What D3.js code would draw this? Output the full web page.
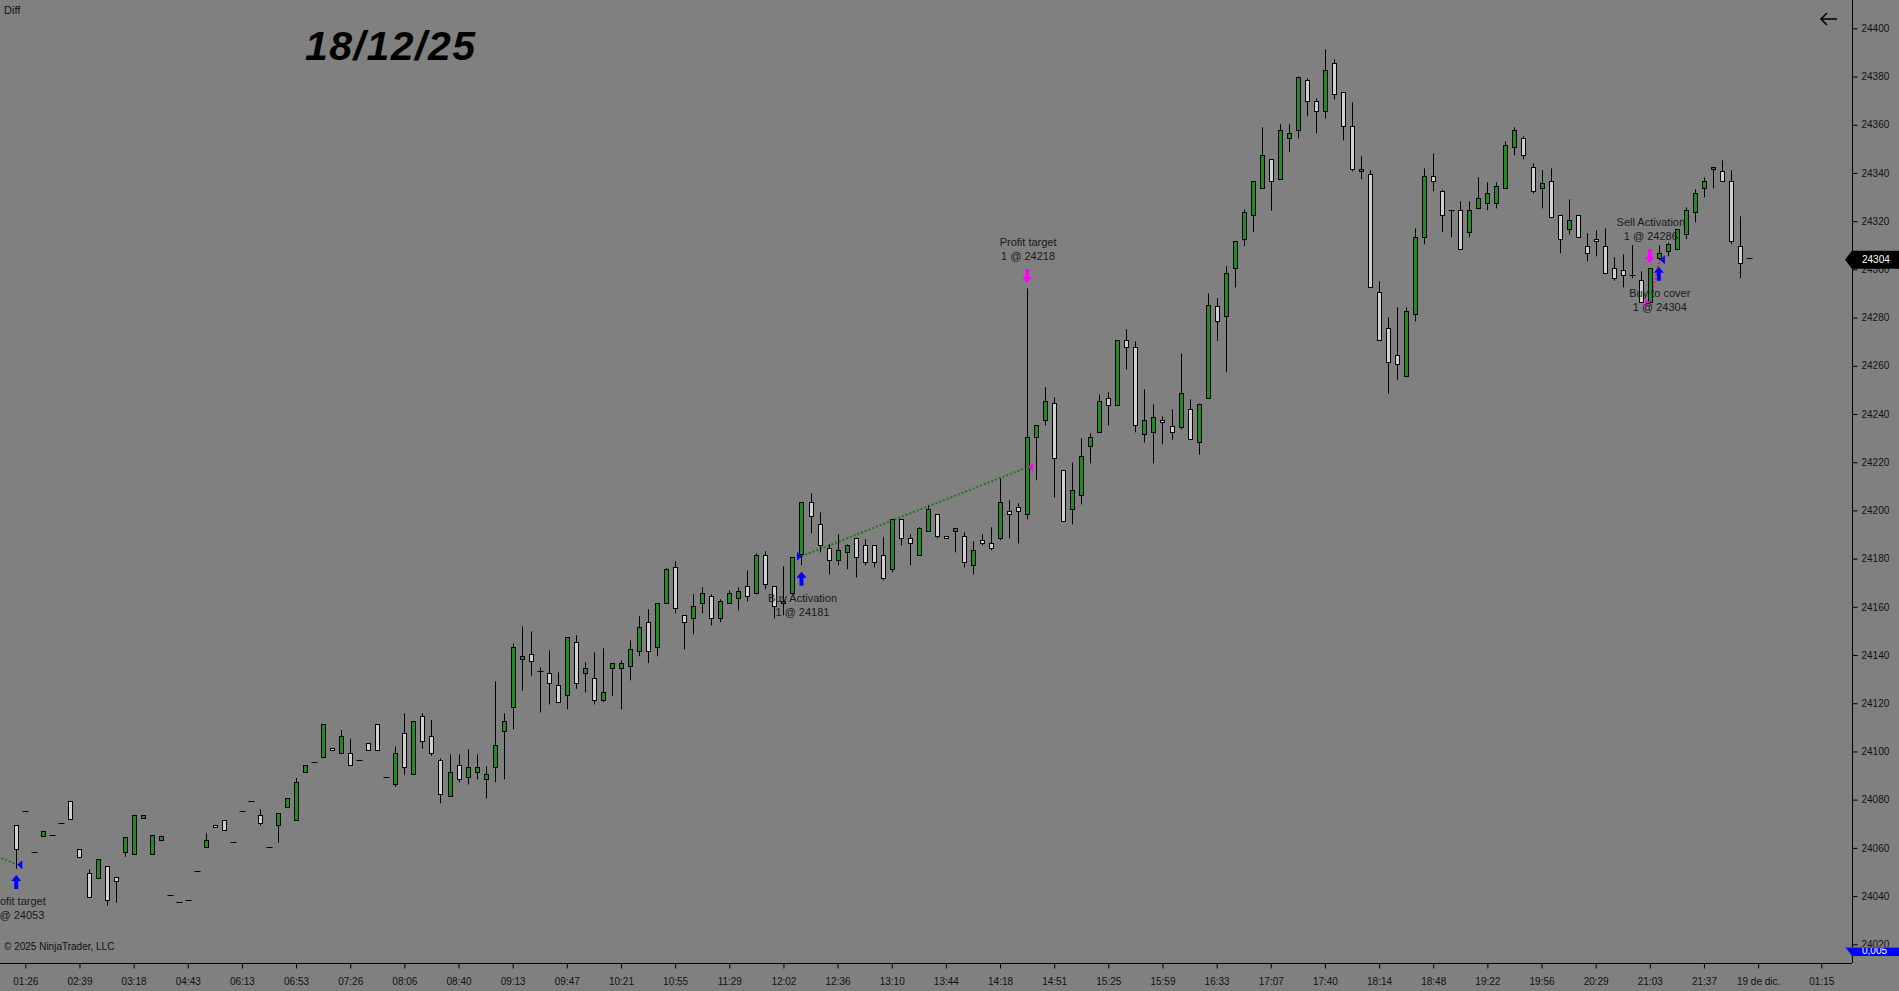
<!DOCTYPE html>
<html>
<head>
<meta charset="utf-8">
<script src="https://cdn.jsdelivr.net/npm/d3@7/dist/d3.min.js"></script>
<style>
  html, body { margin: 0; padding: 0; background: #808080; overflow: hidden; }
  svg { display: block; }
  text { font-family: "Liberation Sans", Arial, sans-serif; }
</style>
</head>
<body>
<svg id="chart" width="1899" height="991"></svg>
<script>
// ---------------- DATA ----------------
const opens = [
24069.4,24075.2,24058.1,24065.1,24065.2,24070.2,24079.3,24059.4,24049.4,24047.4,
24052.3,24048.1,24058.1,24057.3,24072.2,24057.3,24063.1,24040.3,24037.4,24038.2,
24050.3,24060.2,24069.4,24071.4,24062.3,24075.2,24079.3,24073.5,24060.2,24069.4,
24077.1,24071.4,24091.3,24095.5,24097.6,24101.3,24099.2,24099.2,24096.3,24103.4,
24111.2,24089.3,24086.3,24107.5,24090.5,24114.6,24106.3,24096.3,24081.4,24094.2,
24089.3,24091.3,24088.4,24093.4,24108.3,24118.3,24138.2,24140.3,24133.2,24132.4,
24127.4,24123.3,24145.3,24132.4,24130.3,24121.2,24134.5,24134.5,24135.3,24141.5,
24153.6,24143.2,24161.4,24176.4,24156.5,24155.2,24161.4,24164.4,24155.2,24161.4,
24163.5,24168.5,24165.6,24181.4,24168.5,24161.4,24165.6,24181.8,24203.3,24194.2,
24184.3,24179.3,24182.6,24188.4,24185.5,24185.5,24181.4,24175.5,24196.3,24188.4,
24181.4,24191.3,24198.4,24189.2,24191.3,24189.2,24177.2,24187.6,24186.3,24188.4,
24199.6,24201.3,24198.4,24230.3,24237.4,24244.4,24216.6,24200.4,24206.2,24226.6,
24232.4,24246.5,24243.6,24270.5,24267.6,24231.6,24232.4,24237.4,24235.1,24234.5,
24242.2,24228.2,24246.5,24284.6,24280.5,24300.4,24312.5,24322.4,24333.6,24345.6,
24337.3,24354.4,24357.7,24378.4,24369.7,24365.6,24385.5,24373.4,24359.3,24340.7,
24339.4,24290.5,24275.5,24264.3,24255.6,24281.3,24313.3,24338.6,24332.4,24324.5,
24324.6,24315.4,24325.3,24327.4,24327.4,24333.6,24350.6,24354.4,24342.3,24333.6,
24336.5,24322.4,24316.6,24322.4,24309.5,24312.5,24309.5,24300.4,24299.6,24297.5,
24295.4,24286.3,24304.6,24307.5,24308.3,24314.5,24323.7,24333.6,24341.5,24340.7,
24336.5,24309.5,24304.6
];
const highs = [
24069.4,24075.2,24058.1,24067.1,24065.2,24070.2,24079.3,24059.4,24051.1,24055.2,
24052.3,24048.1,24064.4,24073.5,24073.5,24065.2,24065.1,24040.3,24037.4,24038.2,
24050.3,24066.2,24069.4,24071.4,24062.3,24075.2,24079.3,24076.0,24060.2,24074.3,
24080.6,24089.0,24094.2,24095.5,24111.2,24101.3,24108.9,24105.2,24096.3,24103.4,
24111.2,24089.3,24102.1,24115.8,24112.5,24115.8,24113.0,24097.1,24098.8,24098.8,
24100.9,24098.8,24093.8,24129.1,24115.8,24144.8,24151.9,24149.8,24134.9,24141.9,
24132.8,24147.3,24148.2,24137.0,24141.1,24142.8,24136.5,24137.8,24146.1,24156.1,
24159.0,24161.4,24176.0,24178.9,24156.5,24165.2,24168.1,24165.2,24163.1,24166.8,
24168.1,24175.1,24182.2,24183.0,24168.5,24176.8,24180.5,24203.3,24207.1,24199.2,
24185.9,24190.1,24185.9,24188.4,24188.0,24185.5,24189.0,24196.3,24196.3,24190.2,
24193.0,24202.1,24198.4,24189.2,24192.6,24190.9,24187.2,24190.2,24193.0,24213.3,
24204.2,24203.0,24292.1,24235.3,24251.1,24246.9,24216.6,24219.9,24229.9,24232.0,
24248.1,24249.0,24270.5,24275.1,24270.1,24250.2,24244.0,24239.0,24241.9,24265.1,
24246.1,24244.3,24290.0,24288.0,24301.3,24311.6,24324.9,24336.5,24358.9,24345.6,
24360.2,24360.2,24380.0,24379.2,24370.9,24391.3,24387.1,24373.4,24369.3,24346.9,
24341.1,24295.0,24280.1,24284.2,24284.2,24317.0,24341.9,24348.1,24333.0,24324.5,
24328.2,24328.2,24338.2,24336.1,24336.1,24353.1,24358.9,24355.2,24344.0,24341.1,
24341.9,24322.4,24329.0,24322.4,24315.0,24316.2,24317.0,24305.0,24306.2,24310.0,
24299.2,24300.4,24310.0,24311.0,24316.6,24325.7,24333.2,24338.2,24342.3,24345.2,
24341.1,24322.0,24304.6
];
const lows = [
24051.4,24075.2,24058.1,24065.1,24065.2,24070.2,24072.1,24056.3,24039.5,24047.4,
24036.0,24037.3,24056.3,24057.3,24072.2,24057.3,24063.1,24040.3,24037.4,24038.2,
24050.3,24060.2,24068.5,24067.3,24062.3,24075.2,24079.3,24069.2,24060.2,24062.2,
24077.1,24071.4,24091.3,24095.5,24097.6,24100.5,24099.2,24094.2,24096.3,24100.5,
24100.5,24089.3,24085.3,24090.2,24090.5,24101.1,24098.2,24078.5,24081.4,24087.2,
24086.3,24088.4,24080.5,24087.2,24088.4,24109.2,24125.2,24131.4,24116.2,24119.5,
24120.4,24117.5,24126.0,24124.5,24119.5,24120.4,24123.1,24117.5,24129.5,24139.5,
24136.6,24139.5,24161.4,24157.3,24142.4,24148.6,24157.3,24152.3,24153.6,24161.4,
24158.5,24162.3,24165.2,24167.3,24155.2,24156.5,24165.6,24177.2,24190.5,24182.6,
24173.5,24177.2,24175.6,24172.2,24177.2,24176.4,24171.0,24174.3,24185.5,24177.2,
24181.4,24191.3,24188.4,24188.4,24182.6,24176.4,24173.5,24185.5,24183.4,24187.6,
24188.4,24186.3,24196.3,24212.5,24235.3,24205.4,24195.5,24194.2,24202.5,24219.5,
24232.4,24235.3,24243.6,24258.5,24232.4,24228.2,24219.5,24227.4,24229.3,24233.6,
24229.5,24223.1,24246.5,24270.4,24257.3,24292.5,24309.6,24315.4,24333.6,24324.3,
24337.3,24348.6,24354.4,24363.5,24356.4,24362.6,24370.5,24353.5,24340.7,24337.4,
24292.5,24270.6,24248.4,24254.2,24255.6,24278.4,24310.4,24332.4,24315.4,24313.3,
24308.3,24313.3,24325.3,24324.5,24325.3,24333.6,24347.3,24345.6,24331.5,24325.3,
24321.6,24306.6,24314.5,24313.3,24303.3,24305.4,24298.4,24295.3,24292.5,24296.3,
24286.3,24286.3,24303.8,24305.4,24308.3,24312.5,24319.5,24329.9,24333.6,24336.5,
24310.4,24296.3,24304.6
];
const closes = [
24059.4,24075.2,24058.1,24067.1,24065.2,24070.2,24072.1,24056.3,24039.5,24055.2,
24038.2,24046.1,24064.4,24073.5,24073.5,24065.2,24065.1,24040.3,24037.4,24038.2,
24050.3,24063.1,24068.5,24067.3,24062.3,24075.2,24079.3,24070.2,24060.2,24074.3,
24080.6,24087.2,24094.2,24095.5,24111.2,24100.5,24106.3,24094.2,24096.3,24100.5,
24100.5,24089.3,24099.2,24093.4,24112.5,24104.2,24099.2,24082.2,24091.3,24088.4,
24093.4,24093.4,24090.5,24102.5,24112.5,24143.2,24139.5,24137.4,24133.2,24128.2,
24120.4,24147.3,24128.2,24134.5,24121.2,24124.5,24136.5,24136.5,24142.4,24151.5,
24141.5,24161.4,24175.6,24159.4,24153.6,24160.2,24165.6,24155.2,24162.3,24165.6,
24166.5,24164.4,24181.4,24169.3,24160.2,24162.3,24180.5,24203.3,24197.5,24185.5,
24179.3,24183.4,24185.5,24180.5,24178.5,24178.5,24172.0,24196.3,24188.4,24186.3,
24192.6,24200.4,24189.2,24188.4,24192.6,24178.5,24183.4,24186.3,24184.3,24203.3,
24198.4,24199.6,24230.3,24235.3,24245.2,24221.6,24195.5,24208.3,24222.4,24230.3,
24245.2,24243.6,24270.5,24267.6,24235.3,24237.4,24238.6,24236.5,24232.4,24248.6,
24229.5,24244.3,24285.3,24278.4,24298.4,24311.6,24323.6,24336.5,24347.3,24336.5,
24357.7,24356.4,24379.7,24369.7,24365.6,24382.6,24372.6,24359.3,24341.5,24341.5,
24292.5,24270.6,24261.4,24260.6,24282.6,24313.3,24338.6,24336.5,24322.4,24324.5,
24308.3,24324.5,24329.4,24331.5,24334.4,24351.4,24357.7,24347.3,24332.4,24335.7,
24321.6,24312.5,24320.3,24313.3,24306.6,24311.6,24298.4,24296.3,24297.5,24297.5,
24286.3,24300.4,24306.6,24310.4,24316.6,24324.5,24331.5,24336.5,24342.3,24336.5,
24311.6,24302.5,24304.6
];

const timeLabels = ["01:26","02:39","03:18","04:43","06:13","06:53","07:26","08:06","08:40","09:13",
  "09:47","10:21","10:55","11:29","12:02","12:36","13:10","13:44","14:18","14:51","15:25","15:59",
  "16:33","17:07","17:40","18:14","18:48","19:22","19:56","20:29","21:03","21:37","19 de dic.","01:15"];
const timeLabelBars = [1,7,13,19,25,31,37,43,49,55,61,67,73,79,85,91,97,103,109,115,121,127,
  133,139,145,151,157,163,169,175,181,187,193,200];
const priceTicks = [24020,24040,24060,24080,24100,24120,24140,24160,24180,24200,
  24220,24240,24260,24280,24300,24320,24340,24360,24380,24400];

// executions: bar index, price, side, entry/exit, label
const execBars   = [0, 87, 112, 181, 182];
const execPrices = [24053, 24181, 24218, 24286, 24304];
const execSides  = ["buy", "buy", "sell", "sell", "buy"];
const execKinds  = ["exit", "entry", "exit", "entry", "exit"];
const execNames  = ["Profit target", "Buy Activation", "Profit target", "Sell Activation", "Buy to cover"];
// trades: entry bar/price -> exit bar/price
const tradeEntryBars   = [-20, 87, 181];
const tradeEntryPrices = [24085, 24181, 24286];
const tradeExitBars    = [0, 112, 182];
const tradeExitPrices  = [24053, 24218, 24304];
const tradeWins        = [true, true, false];

const lastPrice = 24304;
const titleText = "18/12/25";

// ---------------- DRAW ----------------
const W = 1899, H = 991;
const axisX = 1852, axisY = 963;
const svg = d3.select("#chart");
const COL_UP = "#228b22", COL_DOWN = "#cfcfcf", COL_TXT = "#111";

svg.append("rect").attr("width", W).attr("height", H).attr("fill", "#808080");

const x = d3.scaleLinear().domain([0, 192]).range([16.3, 16.3 + 9.025 * 192]);
const y = d3.scaleLinear().domain([24020, 24400]).range([944.3, 28.3]);

const defs = svg.append("defs");
defs.append("clipPath").attr("id", "plot")
  .append("rect").attr("x", 0).attr("y", 0).attr("width", axisX).attr("height", axisY);

const plot = svg.append("g").attr("clip-path", "url(#plot)");

// trade lines
const trades = tradeEntryBars.map((b, i) => ({
  x1: x(b), y1: y(tradeEntryPrices[i]), x2: x(tradeExitBars[i]) + 1, y2: y(tradeExitPrices[i]), win: tradeWins[i]
}));
plot.selectAll("line.trade").data(trades).join("line")
  .attr("class", "trade")
  .attr("x1", d => d.x1).attr("y1", d => d.y1).attr("x2", d => d.x2).attr("y2", d => d.y2)
  .attr("stroke", d => d.win ? "#1c7a1c" : "#e0204a")
  .attr("stroke-width", 2).attr("stroke-dasharray", "2,2");

// candles
const bars = opens.map((o, i) => ({ i, o, h: highs[i], l: lows[i], c: closes[i] }));
const cg = plot.append("g");
const px = i => Math.round(x(i)) + 0.5;
cg.selectAll("line.wick").data(bars.filter(d => d.h - d.l > 0.3)).join("line")
  .attr("class", "wick")
  .attr("x1", d => px(d.i)).attr("x2", d => px(d.i))
  .attr("y1", d => y(d.h)).attr("y2", d => y(d.l))
  .attr("stroke", "#000").attr("stroke-width", 1);
cg.selectAll("rect.body").data(bars.filter(d => Math.abs(d.o - d.c) > 0.3)).join("rect")
  .attr("class", "body")
  .attr("x", d => px(d.i) - 2)
  .attr("width", 4)
  .attr("y", d => Math.round(y(Math.max(d.o, d.c))) + 0.5)
  .attr("height", d => Math.max(1, Math.round(y(Math.min(d.o, d.c))) - Math.round(y(Math.max(d.o, d.c)))))
  .attr("fill", d => d.c >= d.o ? COL_UP : COL_DOWN)
  .attr("stroke", "#000").attr("stroke-width", 1);
cg.selectAll("line.doji").data(bars.filter(d => Math.abs(d.o - d.c) <= 0.3)).join("line")
  .attr("class", "doji")
  .attr("x1", d => px(d.i) - 3).attr("x2", d => px(d.i) + 3)
  .attr("y1", d => Math.round(y(d.o)) + 0.5).attr("y2", d => Math.round(y(d.o)) + 0.5)
  .attr("stroke", "#000").attr("stroke-width", 1);

// executions
const execs = execBars.map((b, i) => ({
  b, price: execPrices[i], side: execSides[i], kind: execKinds[i], name: execNames[i]
}));
const eg = plot.append("g");
execs.forEach(e => {
  const cx = x(e.b);
  const col = e.side === "buy" ? "#0000ff" : "#ff00ff";
  const ey = y(e.price);
  let tri;
  if (e.kind === "entry") tri = [[cx - 4.5, ey - 4.5], [cx + 0.5, ey], [cx - 4.5, ey + 4.5]];
  else tri = [[cx + 6, ey - 4.5], [cx + 1, ey], [cx + 6, ey + 4.5]];
  eg.append("path").attr("d", d3.line()(tri) + "Z").attr("fill", col);
  const bar = bars[e.b];
  if (e.side === "buy") {
    const top = y(bar.l) + 6.5;
    const ar = [[cx, top], [cx + 5, top + 6], [cx + 2, top + 6], [cx + 2, top + 14], [cx - 2, top + 14], [cx - 2, top + 6], [cx - 5, top + 6]];
    eg.append("path").attr("d", d3.line()(ar) + "Z").attr("fill", col);
    const t = eg.append("text").attr("text-anchor", "middle").attr("font-size", 11).attr("fill", "#1a1a1a");
    t.append("tspan").attr("x", cx + 1).attr("y", top + 14 + 16).text(e.name);
    t.append("tspan").attr("x", cx + 1).attr("y", top + 14 + 30).text("1 @ " + e.price);
  } else {
    const bot = y(bar.h) - 5.5;
    const ar = [[cx, bot], [cx + 5, bot - 6], [cx + 2, bot - 6], [cx + 2, bot - 14], [cx - 2, bot - 14], [cx - 2, bot - 6], [cx - 5, bot - 6]];
    eg.append("path").attr("d", d3.line()(ar) + "Z").attr("fill", col);
    const t = eg.append("text").attr("text-anchor", "middle").attr("font-size", 11).attr("fill", "#1a1a1a");
    t.append("tspan").attr("x", cx + 1).attr("y", bot - 14 - 23).text(e.name);
    t.append("tspan").attr("x", cx + 1).attr("y", bot - 14 - 9).text("1 @ " + e.price);
  }
});

// ---------------- AXES ----------------
const yAxis = d3.axisRight(y).tickValues(priceTicks).tickFormat(d3.format("d")).tickSize(5).tickPadding(4);
const gy = svg.append("g").attr("transform", `translate(${axisX + 0.5},0)`).call(yAxis);
gy.select(".domain").remove();
gy.selectAll(".tick line").attr("stroke", "#000");
gy.selectAll(".tick text").attr("font-size", 10).attr("fill", COL_TXT)
  .attr("font-family", "'Liberation Sans', Arial, sans-serif");

const xAxis = d3.axisBottom(x).tickValues(timeLabelBars)
  .tickFormat((d, i) => timeLabels[i]).tickSize(5).tickPadding(9);
const gx = svg.append("g").attr("transform", `translate(0,${axisY + 0.5})`).call(xAxis);
gx.select(".domain").remove();
gx.selectAll(".tick line").attr("stroke", "#000");
gx.selectAll(".tick text").attr("font-size", 10).attr("fill", COL_TXT)
  .attr("font-family", "'Liberation Sans', Arial, sans-serif");

svg.append("line").attr("x1", axisX + 0.5).attr("x2", axisX + 0.5).attr("y1", 0).attr("y2", axisY)
  .attr("stroke", "#000").attr("stroke-width", 1);
svg.append("line").attr("x1", 0).attr("x2", axisX).attr("y1", axisY + 0.5).attr("y2", axisY + 0.5)
  .attr("stroke", "#000").attr("stroke-width", 1);

// last price marker
const ly = y(lastPrice);
svg.append("path")
  .attr("d", `M${axisX - 7},${ly} L${axisX},${ly - 9} L${W},${ly - 9} L${W},${ly + 9} L${axisX},${ly + 9} Z`)
  .attr("fill", "#000");
svg.append("text").attr("x", axisX + 10).attr("y", ly).attr("dy", "0.35em")
  .attr("font-size", 10).attr("fill", "#fff").text(lastPrice);

// collapsed indicator panel value box
svg.append("line").attr("x1", axisX - 7).attr("x2", W).attr("y1", 947.5).attr("y2", 947.5)
  .attr("stroke", "#1c8a1c").attr("stroke-width", 1);
defs.append("clipPath").attr("id", "vbox")
  .append("rect").attr("x", axisX - 8).attr("y", 948).attr("width", 60).attr("height", 8);
svg.append("path").attr("d", `M${axisX - 6},948 L${W},948 L${W},956 L${axisX},956 Z`).attr("fill", "#0000ff");
svg.append("text").attr("clip-path", "url(#vbox)").attr("x", axisX + 10).attr("y", 954)
  .attr("font-size", 10).attr("fill", "#fff").text("0,005");

// back arrow
svg.append("path").attr("d", "M1837,19 L1821,19 M1827,13 L1821,19 L1827,25")
  .attr("stroke", "#000").attr("stroke-width", 1.6).attr("fill", "none");

// texts
svg.append("text").attr("x", 4).attr("y", 14).attr("font-size", 11).attr("fill", "#111").text("Diff");
svg.append("text").attr("x", 305).attr("y", 60).attr("font-size", 41).attr("letter-spacing", 1.5)
  .attr("font-weight", "bold").attr("font-style", "italic").attr("fill", "#000").text(titleText);
svg.append("text").attr("x", 4).attr("y", 950).attr("font-size", 10).attr("fill", "#111")
  .text("© 2025 NinjaTrader, LLC");
</script>
</body>
</html>
